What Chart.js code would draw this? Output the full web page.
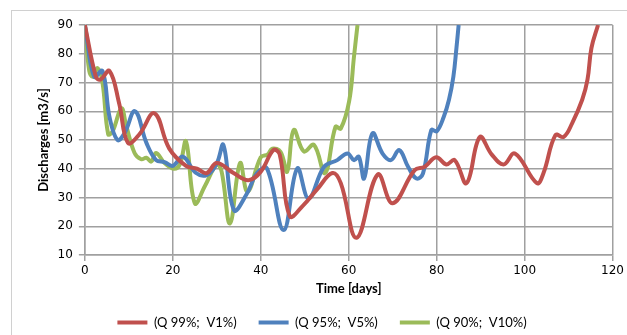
<!DOCTYPE html>
<html>
<head>
<meta charset="utf-8">
<script src="https://cdn.jsdelivr.net/npm/chart.js@4"></script>
<style>
  html, body { margin: 0; padding: 0; background: #fff; }
  #wrap { position: relative; width: 627px; height: 335px; overflow: hidden; }
  #frame { position: absolute; left: 11px; top: 10px; width: 700px; height: 400px;
           border-left: 1px solid #d0d0d0; border-top: 1px solid #d0d0d0; pointer-events: none; }
</style>
</head>
<body>
<div id="wrap">
  <canvas id="dischargeChart" width="627" height="335"></canvas>
  <div id="frame"></div>
</div>
<script>
// Series labels
const seriesNames = ['(Q 99%;  V1%)', '(Q 95%;  V5%)', '(Q 90%;  V10%)'];

// Time [days] and discharge [m3/s]
const q99Days = [0, 2.5, 3.5, 5.6, 7.8, 9.8, 12.4, 15.8, 19.2, 23, 25.5, 27.7, 30, 33.8, 37.2, 40, 42.9, 44.3, 46.6, 49.5, 52.9, 56.3, 58.2, 61.8, 66.6, 70, 75, 77.3, 79.9, 82.2, 84.1, 86.8, 89.8, 92.5, 95.2, 97.8, 102.8, 104.3, 107, 108.9, 110.8, 113.1, 114.3, 115.2, 116.7];
const q99Vals = [90, 72, 71, 74, 62.7, 49, 52, 59.3, 47, 41, 40, 38.5, 42, 38.5, 36, 39, 46.5, 45, 23.5, 27, 33, 38.5, 35, 16, 38, 28, 39.5, 40.7, 44, 41.5, 43, 35, 51, 45, 41.5, 45.3, 35, 38.5, 51.7, 51.1, 55.8, 64, 71, 82, 90];

const q95Days = [0, 2.1, 4, 5.6, 7.4, 9, 11.4, 14, 16.2, 18.1, 20, 22.3, 25.2, 27.7, 30, 31.5, 33.9, 36.8, 39.1, 41.4, 45.2, 48.3, 50.9, 54.4, 57.4, 59.7, 61.2, 62.3, 63.5, 65.4, 67.7, 69.6, 71.5, 73.5, 75.4, 76.9, 78.8, 80, 81.6, 82.8, 83.8, 84.5, 85];
const q95Vals = [90, 72, 74, 58, 50, 52.3, 60, 49, 43, 42.3, 41, 44.2, 38.6, 37.8, 41.9, 48.3, 25.6, 31.2, 38.4, 40.1, 18.7, 40.1, 29.7, 40.7, 43, 45.3, 43, 44.2, 36.6, 52.3, 45.3, 43, 46.5, 40.7, 36.6, 38.4, 53.5, 53, 58, 64, 72, 82, 90];

const q90Days = [0, 1, 1.8, 2.9, 4, 5.3, 6.3, 8.3, 9.4, 11.3, 12.8, 14, 15.1, 16.2, 18.1, 20.2, 21.6, 23, 25, 27.3, 30, 31.1, 33, 35.3, 37, 40, 41.6, 42.6, 44.5, 46, 47.5, 49.8, 52.1, 54.6, 57, 58.2, 60.1, 61.2, 62];
const q90Vals = [90, 74, 72, 75, 70, 52, 53, 61, 55, 45.5, 43.3, 43.8, 42.5, 45.5, 42, 40, 41.5, 49.5, 28, 34, 41.5, 39, 21, 42, 32, 44, 45, 47, 45.9, 39, 53.5, 46, 48.3, 38.5, 54.6, 54, 63.5, 79, 90];

// Axis ticks
const xTicks = [0, 20, 40, 60, 80, 100, 120];
const yTicks = [10, 20, 30, 40, 50, 60, 70, 80, 90];

const colors = ['#c0504d', '#4f81bd', '#9bbb59'];

function toPoints(days, vals) {
  return days.map((d, i) => ({ x: d, y: vals[i] }));
}

const seriesData = [
  toPoints(q99Days, q99Vals),
  toPoints(q95Days, q95Vals),
  toPoints(q90Days, q90Vals)
];

const gridColor = '#a0a0a0';
const fontFamily = 'Lato, "Open Sans", sans-serif';
const tickFont = { family: '"DejaVu Sans", sans-serif', size: 12 };

const ctx = document.getElementById('dischargeChart').getContext('2d');
new Chart(ctx, {
  type: 'line',
  data: {
    datasets: seriesData.map((pts, i) => ({
      label: seriesNames[i],
      data: pts,
      borderColor: colors[i],
      backgroundColor: colors[i],
      borderWidth: 4,
      pointRadius: 0,
      pointStyle: 'line',
      tension: 0.4,
      fill: false
    }))
  },
  options: {
    responsive: false,
    animation: false,
    layout: { padding: { left: 30, right: 13, top: 25, bottom: -4 } },
    plugins: {
      legend: {
        position: 'bottom',
        labels: {
          usePointStyle: true,
          pointStyle: 'line',
          pointStyleWidth: 30,
          padding: 22,
          color: '#000',
          font: { family: fontFamily, size: 13 }
        }
      },
      tooltip: { enabled: false }
    },
    scales: {
      x: {
        type: 'linear',
        min: 0,
        max: 120,
        afterBuildTicks: axis => { axis.ticks = xTicks.map(v => ({ value: v })); },
        grid: { color: gridColor, lineWidth: 1.5, tickLength: 6 },
        border: { color: gridColor, width: 1.5 },
        ticks: { color: '#000', font: tickFont, padding: 3, maxRotation: 0 },
        title: {
          display: true,
          text: 'Time [days]',
          color: '#000',
          font: { family: fontFamily, size: 13, weight: 'bold' },
          padding: { top: 0, bottom: -3 }
        }
      },
      y: {
        min: 10,
        max: 90,
        afterBuildTicks: axis => { axis.ticks = yTicks.map(v => ({ value: v })); },
        grid: { color: gridColor, lineWidth: 1.5, tickLength: 6 },
        border: { color: gridColor, width: 1.5 },
        ticks: { color: '#000', font: tickFont, padding: 6 },
        title: {
          display: true,
          text: 'Discharges [m3/s]',
          color: '#000',
          font: { family: fontFamily, size: 13, weight: 'bold' },
          padding: { top: 6, bottom: 0 }
        }
      }
    }
  }
});
</script>
</body>
</html>
